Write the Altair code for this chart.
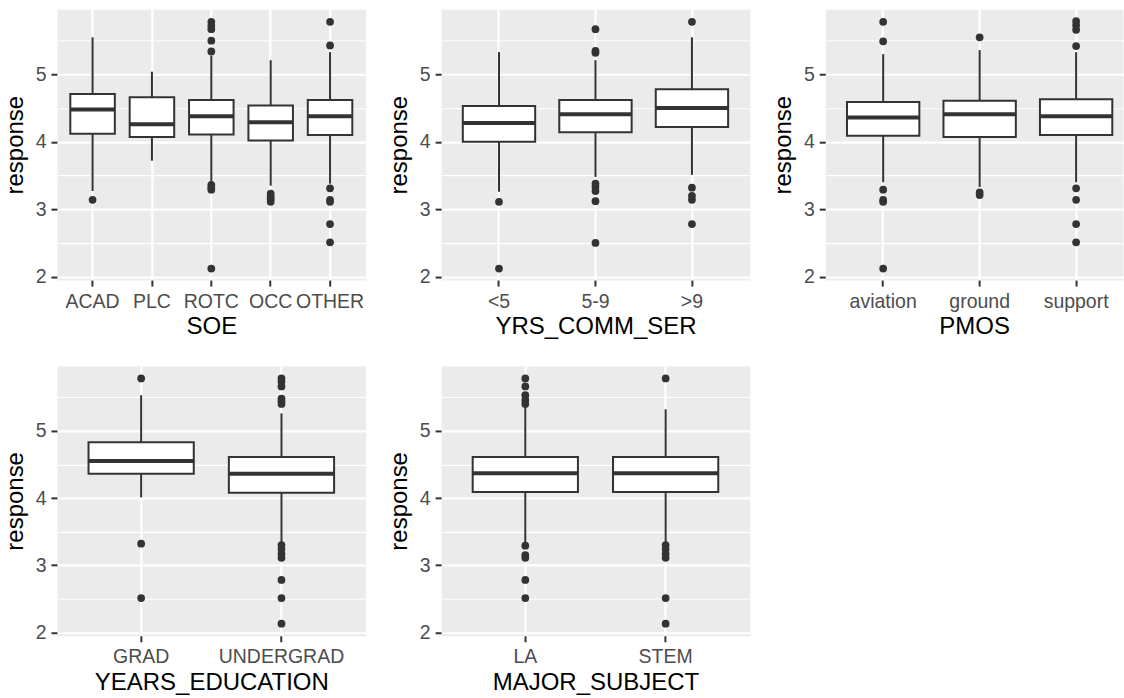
import altair as alt
import pandas as pd

FONT = "Liberation Sans"
INK = "#333333"

# ---- box statistics per grouping variable ----
soe_cats = ["ACAD", "PLC", "ROTC", "OCC", "OTHER"]
soe_lo = [3.27, 3.72, 3.38, 3.35, 3.38]
soe_q1 = [4.12, 4.07, 4.11, 4.02, 4.10]
soe_med = [4.48, 4.26, 4.38, 4.29, 4.38]
soe_q3 = [4.71, 4.66, 4.62, 4.54, 4.62]
soe_hi = [5.55, 5.04, 5.28, 5.21, 5.33]
soe_out = [
    [3.14],
    [],
    [5.78, 5.72, 5.67, 5.50, 5.34, 3.36, 3.32, 3.29, 2.12],
    [3.23, 3.19, 3.15, 3.11],
    [5.78, 5.43, 3.31, 3.14, 3.11, 2.78, 2.51],
]

yrs_cats = ["<5", "5-9", ">9"]
yrs_lo = [3.26, 3.48, 3.51]
yrs_q1 = [4.00, 4.14, 4.22]
yrs_med = [4.28, 4.41, 4.50]
yrs_q3 = [4.53, 4.62, 4.78]
yrs_hi = [5.33, 5.21, 5.55]
yrs_out = [
    [3.11, 2.12],
    [5.67, 5.35, 5.32, 3.38, 3.33, 3.27, 3.12, 2.50],
    [5.78, 3.32, 3.20, 3.14, 2.78],
]

pmos_cats = ["aviation", "ground", "support"]
pmos_lo = [3.40, 3.33, 3.40]
pmos_q1 = [4.09, 4.07, 4.10]
pmos_med = [4.36, 4.41, 4.38]
pmos_q3 = [4.59, 4.61, 4.63]
pmos_hi = [5.30, 5.36, 5.33]
pmos_out = [
    [5.78, 5.49, 3.29, 3.14, 3.11, 2.12],
    [5.55, 3.25, 3.21],
    [5.79, 5.73, 5.66, 5.42, 3.31, 3.14, 2.78, 2.51],
]

edu_cats = ["GRAD", "UNDERGRAD"]
edu_lo = [4.01, 3.34]
edu_q1 = [4.36, 4.08]
edu_med = [4.55, 4.36]
edu_q3 = [4.83, 4.61]
edu_hi = [5.53, 5.26]
edu_out = [
    [5.78, 3.32, 2.51],
    [5.78, 5.73, 5.66, 5.48, 5.44, 5.40, 3.30, 3.24, 3.17, 3.11, 2.78, 2.51, 2.13],
]

maj_cats = ["LA", "STEM"]
maj_lo = [3.34, 3.33]
maj_q1 = [4.09, 4.09]
maj_med = [4.37, 4.37]
maj_q3 = [4.61, 4.61]
maj_hi = [5.36, 5.32]
maj_out = [
    [5.78, 5.66, 5.53, 5.46, 5.40, 3.29, 3.15, 3.11, 2.78, 2.51],
    [5.78, 3.30, 3.24, 3.17, 3.11, 2.51, 2.13],
]

y_ticks = [2, 2.5, 3, 3.5, 4, 4.5, 5, 5.5]
y_domain = [1.95, 5.965]

MINOR = "datum.value % 1 !== 0"
Y_SCALE = alt.Scale(domain=y_domain, nice=False, zero=False)
Y_AXIS = alt.Axis(
    title="response",
    values=y_ticks,
    labelExpr="datum.value % 1 === 0 ? toString(datum.value) : ''",
    gridWidth={"condition": {"test": MINOR, "value": 1.1}, "value": 2.2},
    tickOpacity={"condition": {"test": MINOR, "value": 0}, "value": 1},
)

STEP_PAD = 0.225  # outer band padding (in steps) on each side of the categories


def panel(title, cats, lo, q1, med, q3, hi, out, width=309, height=271,
          outer=STEP_PAD, align=0.5):
    stats = pd.DataFrame({"cat": cats, "lo": lo, "q1": q1, "med": med, "q3": q3, "hi": hi})
    pts = pd.DataFrame(
        [{"cat": c, "value": v} for c, vals in zip(cats, out) for v in vals]
    )
    step = width / (len(cats) - 0.25 + 2 * outer)
    x = alt.X(
        "cat:N",
        scale=alt.Scale(type="band", domain=cats, paddingInner=0.25,
                        paddingOuter=outer, align=align),
        axis=alt.Axis(title=title, bandPosition=0.5, labelAngle=0),
    )

    def y(field):
        return alt.Y(field, scale=Y_SCALE, axis=Y_AXIS)

    base = alt.Chart(stats)
    whisker = base.mark_rule(color=INK, strokeWidth=2).encode(x=x, y=y("lo:Q"), y2="hi:Q")
    box = base.mark_bar(fill="white", stroke=INK, strokeWidth=2).encode(
        x=x, y=y("q3:Q"), y2="q1:Q"
    )
    median = base.mark_tick(
        color=INK, thickness=4, size=0.75 * step, orient="horizontal", opacity=1
    ).encode(x=x, y=y("med:Q"))
    dots = alt.Chart(pts).mark_circle(color=INK, opacity=1, size=60).encode(
        x=x, y=y("value:Q")
    )
    return alt.layer(dots, whisker, box, median).properties(width=width, height=height)


p1 = panel("SOE", soe_cats, soe_lo, soe_q1, soe_med, soe_q3, soe_hi, soe_out)
p2 = panel("YRS_COMM_SER", yrs_cats, yrs_lo, yrs_q1, yrs_med, yrs_q3, yrs_hi, yrs_out)
# right-hand panel runs to the page edge, so its bands sit left of centre
p3 = panel("PMOS", pmos_cats, pmos_lo, pmos_q1, pmos_med, pmos_q3, pmos_hi, pmos_out,
           width=298, outer=0.168, align=0.67)
p4 = panel("YEARS_EDUCATION", edu_cats, edu_lo, edu_q1, edu_med, edu_q3, edu_hi, edu_out,
           height=270)
p5 = panel("MAJOR_SUBJECT", maj_cats, maj_lo, maj_q1, maj_med, maj_q3, maj_hi, maj_out,
           height=270)

chart = (
    alt.concat(p1, p2, p3, p4, p5, columns=3,
               spacing={"row": 86, "column": 75.5}, bounds="flush")
    .properties(padding={"left": 2, "top": 8, "right": 0, "bottom": 0}, background="white")
    .configure_view(fill="#EBEBEB", stroke="transparent")
    .configure_axis(
        labelFont=FONT,
        titleFont=FONT,
        labelFontSize=19.5,
        titleFontSize=24,
        labelColor="#4D4D4D",
        titleColor="#000000",
        titleFontWeight="normal",
        tickColor=INK,
        tickWidth=2,
        tickSize=6,
        domain=False,
        grid=True,
        gridColor="white",
        gridWidth=2.2,
    )
    .configure_axisX(labelPadding=6, titlePadding=4)
    .configure_axisY(labelPadding=5, titlePadding=8)
)

chart.save("out.html", embed_options={"renderer": "svg", "actions": False})
